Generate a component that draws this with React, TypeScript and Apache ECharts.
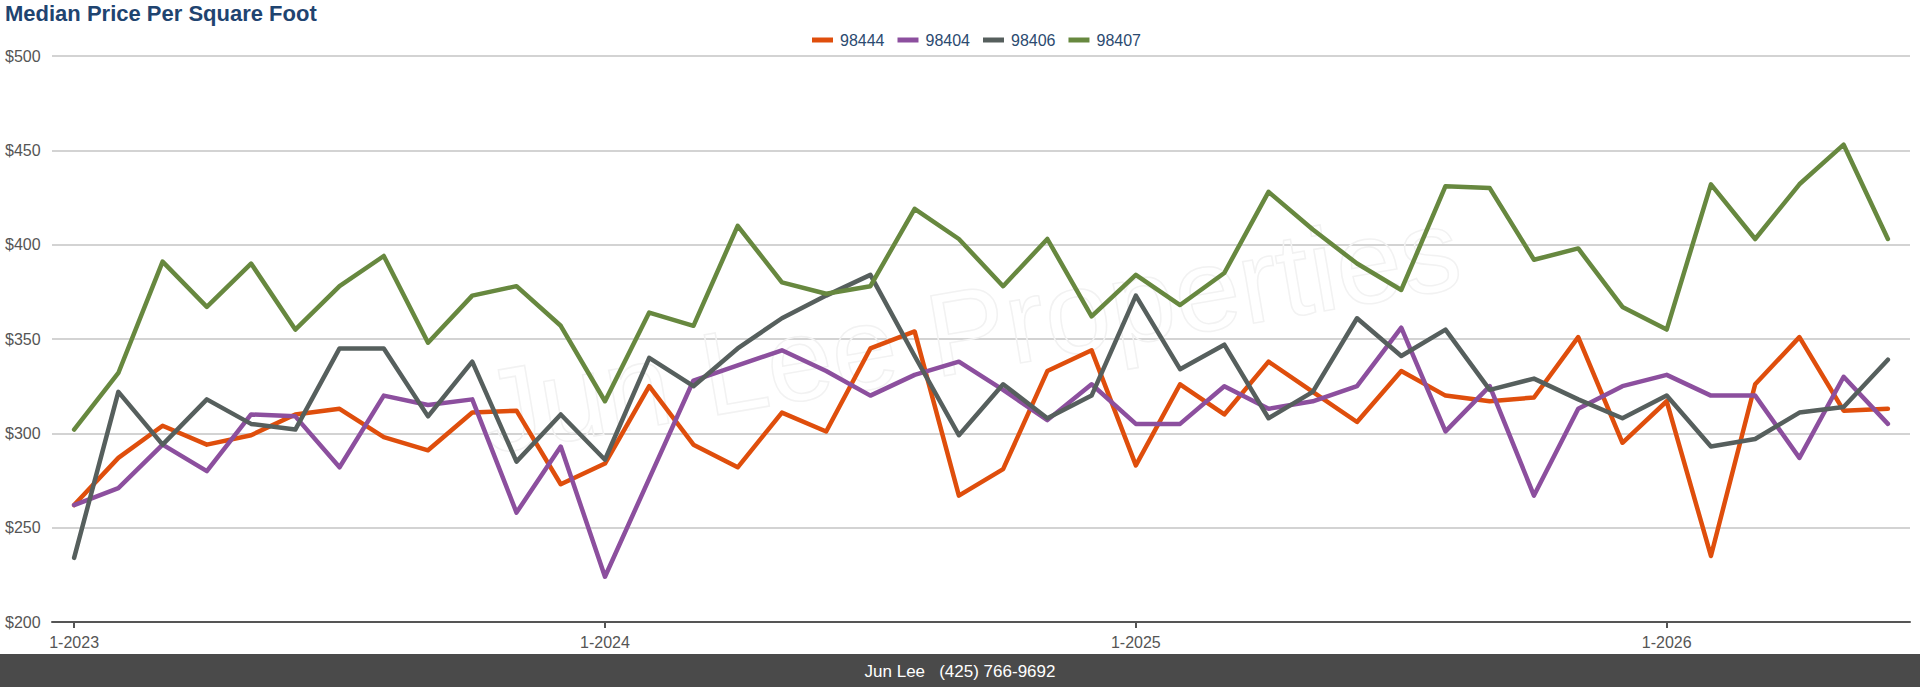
import React, { useEffect, useRef } from "react";
import * as echarts from "echarts";

const seriesNames = ["98444", "98404", "98406", "98407"];
const seriesColors = ["#DF4E0C", "#8C4F9E", "#565F5D", "#67883F"];

const startYear = 2023;
const monthCount = 42;
const categories: string[] = Array.from({ length: monthCount }, (_, i) => `${(i % 12) + 1}-${startYear + Math.floor(i / 12)}`);

const v98444 = [262, 287, 304, 294, 299, 310, 313, 298, 291, 311, 312, 273, 284, 325, 294, 282, 311, 301, 345, 354, 267, 281, 333, 344, 283, 326, 310, 338, 322, 306, 333, 320, 317, 319, 351, 295, 317, 235, 326, 351, 312, 313];
const v98404 = [262, 271, 294, 280, 310, 309, 282, 320, 315, 318, 258, 293, 224, 276, 328, 336, 344, 333, 320, 331, 338, 323, 307, 326, 305, 305, 325, 313, 317, 325, 356, 301, 325, 267, 313, 325, 331, 320, 320, 287, 330, 305];
const v98406 = [234, 322, 294, 318, 305, 302, 345, 345, 309, 338, 285, 310, 286, 340, 325, 345, 361, 373, 384, 341, 299, 326, 308, 320, 373, 334, 347, 308, 322, 361, 341, 355, 323, 329, 318, 308, 320, 293, 297, 311, 314, 339];
const v98407 = [302, 332, 391, 367, 390, 355, 378, 394, 348, 373, 378, 357, 317, 364, 357, 410, 380, 374, 378, 419, 403, 378, 403, 362, 384, 368, 385, 428, 408, 390, 376, 431, 430, 392, 398, 367, 355, 432, 403, 432, 453, 403];
const seriesValues = [v98444, v98404, v98406, v98407];

const yTicks = { min: 200, max: 500, interval: 50 };

const FONT = "'Liberation Sans', Arial, Helvetica, sans-serif";

export default function App() {
  const ref = useRef<HTMLDivElement>(null);
  useEffect(() => {
    document.body.style.margin = "0";
    if (!ref.current) return;
    const chart = echarts.init(ref.current, null, { renderer: "svg" });
    chart.setOption({
      animation: false,
      backgroundColor: "#ffffff",
      textStyle: { fontFamily: FONT },
      title: {
        text: "Median Price Per Square Foot",
        left: 5,
        top: 2,
        padding: 0,
        textStyle: { fontSize: 22, fontWeight: "bold", color: "#1F4470", fontFamily: FONT },
      },
      legend: {
        data: seriesNames,
        left: 812,
        top: 32,
        padding: 0,
        icon: "rect",
        itemWidth: 21,
        itemHeight: 5,
        itemGap: 13,
        textStyle: { fontSize: 16, color: "#2B4A70", fontFamily: FONT, padding: [0, 0, 0, 2] },
      },
      grid: { left: 52, right: 10, top: 56, bottom: 65, containLabel: false },
      xAxis: {
        type: "category",
        data: categories,
        boundaryGap: true,
        axisLine: { show: true, lineStyle: { color: "#555555", width: 2 } },
        axisTick: { show: true, alignWithLabel: true, interval: 11, length: 6, lineStyle: { color: "#555555", width: 2 } },
        axisLabel: { interval: 11, color: "#555555", fontSize: 16, margin: 12, fontFamily: FONT },
        splitLine: { show: false },
      },
      yAxis: {
        type: "value",
        min: yTicks.min,
        max: yTicks.max,
        interval: yTicks.interval,
        axisLine: { show: false },
        axisTick: { show: false },
        axisLabel: {
          formatter: (v: number) => "$" + v,
          align: "left",
          margin: 47,
          color: "#555555",
          fontSize: 16,
          fontFamily: FONT,
        },
        splitLine: { show: true, lineStyle: { color: "#C4C4C4", width: 1.5 } },
      },
      series: seriesNames.map((name, i) => ({
        name,
        type: "line",
        data: seriesValues[i],
        symbol: "none",
        showSymbol: false,
        z: 3 + i,
        itemStyle: { color: seriesColors[i] },
        lineStyle: { color: seriesColors[i], width: 4.5, join: "round", cap: "round" },
      })),
      graphic: [
        {
          type: "text",
          x: 970,
          y: 330,
          rotation: 0.17,
          z: 1,
          silent: true,
          style: {
            text: "Jun Lee Properties",
            fontSize: 118,
            fontFamily: FONT,
            fill: "rgba(255,255,255,0)",
            stroke: "#F2F2F2",
            lineWidth: 1.5,
            textAlign: "center",
            textVerticalAlign: "middle",
          },
        },
        {
          type: "rect",
          x: 0,
          y: 654,
          z: 10,
          shape: { x: 0, y: 0, width: 1920, height: 33 },
          style: { fill: "#4A4A4A" },
        },
        {
          type: "text",
          x: 960,
          y: 671,
          z: 11,
          style: {
            text: "Jun Lee\u00a0\u00a0\u00a0(425) 766-9692",
            fontSize: 17,
            fontFamily: FONT,
            fill: "#FFFFFF",
            textAlign: "center",
            textVerticalAlign: "middle",
          },
        },
      ],
    });
    return () => chart.dispose();
  }, []);
  return <div ref={ref} style={{ width: 1920, height: 687 }} />;
}
